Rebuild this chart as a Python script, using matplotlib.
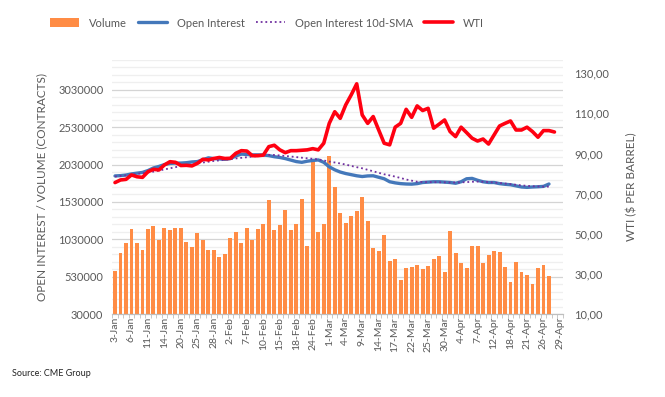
import numpy as np
import matplotlib.pyplot as plt
from matplotlib.ticker import FixedLocator

plt.rcParams['font.family'] = ['Lato', 'DejaVu Sans']

# trading days 3-Jan .. 29-Apr, labels every 3rd day
tick_labels = ['3-Jan', '6-Jan', '11-Jan', '14-Jan', '20-Jan', '25-Jan', '28-Jan',
               '2-Feb', '7-Feb', '10-Feb', '15-Feb', '18-Feb', '24-Feb', '1-Mar',
               '4-Mar', '9-Mar', '14-Mar', '17-Mar', '22-Mar', '25-Mar', '30-Mar',
               '4-Apr', '7-Apr', '12-Apr', '18-Apr', '21-Apr', '26-Apr', '29-Apr']
n_days = 82

# volume (contracts, thousands)
volume_k = [606, 843, 977, 1164, 977, 883, 1164, 1204, 1017, 1178,
            1151, 1178, 1178, 990, 923, 1111, 1017, 883, 883, 789,
            830, 1044, 1124, 977, 1178, 1017, 1164, 1231, 1553, 1151,
            1218, 1419, 1151, 1231, 1566, 937, 2093, 1124, 1231, 2142,
            1731, 1378, 1245, 1339, 1405, 1593, 1271, 910, 870, 1084,
            736, 763, 481, 642, 655, 682, 629, 669, 763, 803,
            588, 1138, 843, 709, 642, 937, 937, 709, 816, 870,
            856, 655, 455, 722, 588, 548, 428, 642, 682, 535]

# open interest (thousands)
oi_k = [1878, 1882, 1890, 1905, 1915, 1925, 1950, 1985, 2005, 2030,
        2045, 2050, 2050, 2055, 2065, 2070, 2095, 2120, 2110, 2105,
        2100, 2110, 2145, 2170, 2165, 2160, 2160, 2158, 2150, 2135,
        2125, 2110, 2090, 2070, 2060, 2075, 2085, 2092, 2060, 2000,
        1960, 1930, 1910, 1895, 1880, 1870, 1878, 1880, 1860, 1840,
        1800, 1785, 1775, 1770, 1768, 1775, 1790, 1795, 1800, 1800,
        1795, 1790, 1780, 1800, 1840, 1845, 1820, 1800, 1790, 1790,
        1775, 1766, 1760, 1745, 1730, 1725, 1730, 1733, 1738, 1770]

# open interest 10d-SMA (thousands)
sma_k = [1870, 1878, 1886, 1895, 1905, 1915, 1925, 1935, 1950, 1965,
         1980, 1995, 2010, 2020, 2030, 2045, 2057, 2068, 2078, 2086,
         2093, 2102, 2112, 2120, 2128, 2136, 2144, 2152, 2160, 2158,
         2152, 2145, 2138, 2130, 2122, 2114, 2107, 2100, 2085, 2070,
         2058, 2045, 2030, 2012, 1995, 1980, 1960, 1940, 1920, 1900,
         1885, 1869, 1850, 1830, 1815, 1800, 1797, 1795, 1795, 1793,
         1792, 1790, 1790, 1792, 1795, 1800, 1802, 1800, 1795, 1790,
         1783, 1776, 1768, 1760, 1752, 1745, 1740, 1737, 1735, 1735]

# WTI ($/bbl)
wti = [75.5, 76.8, 77.1, 79.3, 78.4, 78.1, 80.9, 82.1, 81.8, 84.3,
       85.9, 85.6, 84.0, 84.1, 83.8, 85.1, 87.1, 86.8, 87.5, 88.0,
       87.5, 87.6, 90.1, 91.4, 91.2, 88.9, 88.9, 89.2, 93.4, 94.1,
       91.8, 90.4, 91.4, 91.4, 91.6, 91.8, 92.4, 91.8, 95.1, 105.0,
       110.8, 107.5, 114.2, 119.2, 124.7, 109.2, 105.0, 108.4, 101.7, 95.1,
       94.3, 103.1, 105.0, 112.0, 108.0, 113.7, 111.4, 112.5, 102.6, 104.6,
       106.7, 100.9, 98.4, 103.1, 100.4, 97.6, 96.2, 97.2, 94.7, 99.2,
       103.7, 105.0, 106.2, 101.7, 101.7, 103.1, 100.9, 98.1, 101.4, 101.4,
       100.7]

grey = '#595959'

fig = plt.figure(figsize=(6.65, 3.97), dpi=100)
ax = fig.add_axes([0.168, 0.209, 0.679, 0.64])
ax2 = ax.twinx()

x_vol = np.arange(len(volume_k))
bars = ax.bar(x_vol, np.array(volume_k) * 1000 - 30000, bottom=30000, width=0.72,
              color='#FF8C45', label='Volume', zorder=2)
oi_line, = ax.plot(np.arange(len(oi_k)), np.array(oi_k) * 1000, color='#4478BA',
                   lw=2.4, label='Open Interest', zorder=3, solid_capstyle='round')
sma_line, = ax.plot(np.arange(len(sma_k)), np.array(sma_k) * 1000, color='#7030A0',
                    lw=1.3, ls=(0, (1, 1.6)), label='Open Interest 10d-SMA', zorder=4)
wti_line, = ax2.plot(np.arange(len(wti)), wti, color='#FF0011', lw=2.6, label='WTI',
                     solid_capstyle='round', solid_joinstyle='round')

ax.set_xlim(-0.6, n_days - 0.4)
ax.set_ylim(30000, 3430000)
ax.set_yticks(np.arange(30000, 3030001, 500000))
ax.set_yticklabels([str(v) for v in range(30000, 3030001, 500000)])
ax.yaxis.set_minor_locator(FixedLocator(np.arange(130000, 3430001, 100000)))
ax.grid(axis='y', which='major', color='#D4D4D4', lw=0.9, zorder=0)
ax.grid(axis='y', which='minor', color='#EFEFEF', lw=0.9, zorder=0)
ax.set_axisbelow(True)

ax2.set_ylim(10, 136.6)
ax2.set_yticks(np.arange(10, 131, 20))
ax2.set_yticklabels(['%d,00' % v for v in range(10, 131, 20)])

ax.set_xticks(np.arange(0, n_days, 3))
ax.set_xticklabels(tick_labels, rotation=90, fontsize=7.5, color=grey)
ax.xaxis.set_minor_locator(FixedLocator(np.arange(-0.5, n_days, 1)))
ax.tick_params(axis='x', which='both', length=3, color='#BFBFBF', pad=2)
ax.tick_params(axis='x', which='major', length=0)
ax.tick_params(axis='y', which='both', length=0, labelsize=8, labelcolor=grey, pad=6)
ax2.tick_params(axis='y', length=0, labelsize=8, labelcolor=grey, pad=8)

for a in (ax, ax2):
    for s in ('left', 'right', 'top'):
        a.spines[s].set_visible(False)
    a.spines['bottom'].set_color('#BFBFBF')

ax.set_ylabel('OPEN INTEREST / VOLUME (CONTRACTS)', fontsize=8.5, color=grey, labelpad=8)
ax2.set_ylabel('WTI ($ PER BARREL)', fontsize=8.5, color=grey, rotation=90, labelpad=12)

fig.legend([bars, oi_line, sma_line, wti_line],
           ['Volume', 'Open Interest', 'Open Interest 10d-SMA', 'WTI'],
           loc='center', bbox_to_anchor=(0.402, 0.942), ncol=4,
           frameon=False, fontsize=8, labelcolor=grey, handlelength=2.6,
           handleheight=0.8, columnspacing=1.0, handletextpad=0.9)

fig.text(0.018, 0.052, 'Source: CME Group', fontsize=6.5, color='#222222')

fig.savefig('out.png', dpi=100)
